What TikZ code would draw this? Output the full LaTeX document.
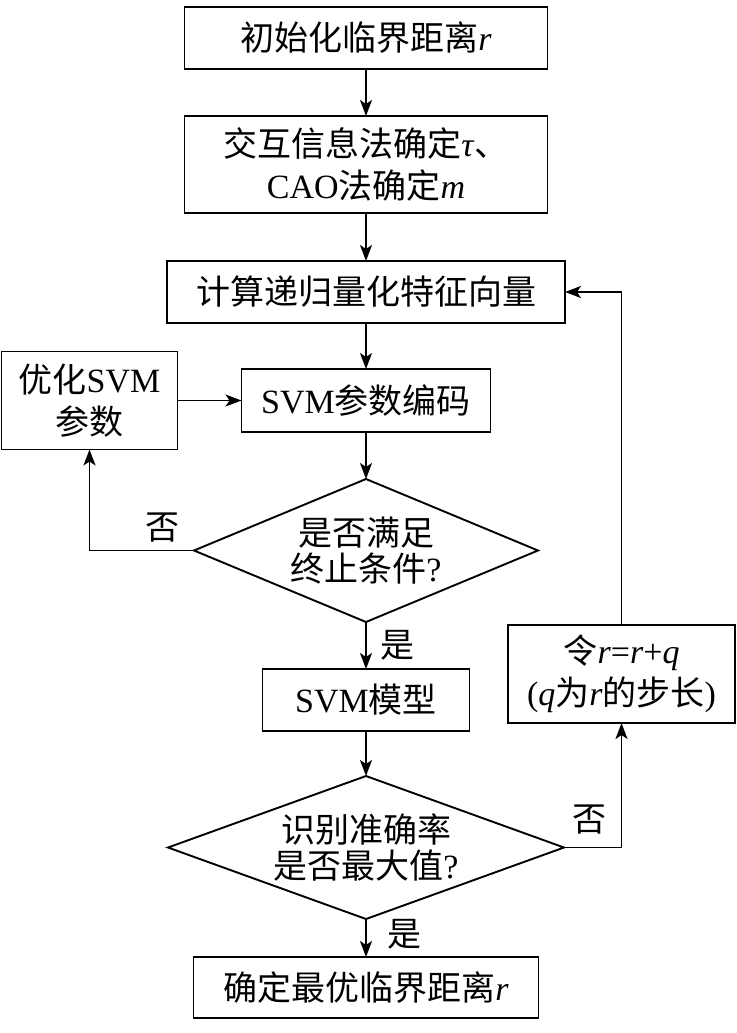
\documentclass[tikz,border=0pt]{standalone}
\usepackage{fontspec}
\setmainfont{Liberation Serif}
\newfontfamily\zh{Noto Sans CJK SC}
\usepackage{tikz}
\usetikzlibrary{arrows.meta, positioning, shapes.geometric}
\tikzset{%
	every path/.style={line width=1.9pt},
	edge/.style={%
		->,
		>={Stealth[length=16pt, width=12pt, inset=4pt]},
	},
	stepbox/.style={%
		rectangle,
		draw=black,
		minimum height=62pt,
		inner sep=0pt,
		outer sep=0pt,
		font=\fontsize{34}{42}\selectfont,
		align=center,
	},
	decision/.style={%
		diamond,
		draw=black,
		inner sep=-6pt,
		outer sep=0pt,
		font=\fontsize{34}{36}\selectfont,
		align=center,
	},
	lbl/.style={%
		inner sep=0pt,
		font=\fontsize{34}{42}\selectfont\zh,
	},
}

\begin{document}
\begin{tikzpicture}[x=1pt, y=1pt]
	\useasboundingbox (0,0) rectangle (736,-1033);
	\coordinate (col_top) at (366, -38);
	\coordinate (loop_right) at (621.5, -674);

	\node [stepbox, minimum width=363pt] at (col_top) (init) {{\zh 初始化临界距离}\textit{r}};
	\node [stepbox, minimum width=363pt, minimum height=97pt, below=47pt of init] (embed) {{\zh 交互信息法确定}\textit{τ}{\zh 、}\\CAO{\zh 法确定}\textit{m}};
	\node [stepbox, minimum width=398pt, below=48pt of embed] (rqa) {{\zh 计算递归量化特征向量}};
	\node [stepbox, minimum width=249pt, minimum height=63pt, below=46pt of rqa] (code) {SVM{\zh 参数编码}};
	\node [decision, minimum width=344pt, minimum height=143pt, aspect=2.4, below=47pt of code] (stop) {{\zh 是否满足}\\{\zh 终止条件}?};
	\node [stepbox, minimum width=207pt, minimum height=62pt, below=47pt of stop] (model) {SVM{\zh 模型}};
	\node [decision, minimum width=396pt, minimum height=143pt, aspect=2.8, below=45pt of model] (best) {{\zh 识别准确率}\\{\zh 是否最大值}?};
	\node [stepbox, minimum width=345pt, minimum height=61pt, below=38pt of best] (result) {{\zh 确定最优临界距离}\textit{r}};

	\node [stepbox, minimum width=176pt, minimum height=98pt, left=64pt of code] (opt) {{\zh 优化}SVM\\{\zh 参数}};
	\node [stepbox, minimum width=227pt, minimum height=98pt] at (loop_right) (step_r) {{\zh 令}\textit{r}=\textit{r}+\textit{q}\\(\textit{q}{\zh 为}\textit{r}{\zh 的步长})};

	\node [lbl] at (162, -528) (no_stop) {否};
	\node [lbl] at (397, -645) (yes_stop) {是};
	\node [lbl] at (589, -820) (no_best) {否};
	\node [lbl] at (404, -934) (yes_best) {是};

	\draw[edge] (init) -- (embed);
	\draw[edge] (embed) -- (rqa);
	\draw[edge] (rqa) -- (code);
	\draw[edge] (code) -- (stop);
	\draw[edge] (stop) -- (model);
	\draw[edge] (model) -- (best);
	\draw[edge] (best) -- (result);
	\draw[edge] (opt) -- (code);
	\draw[edge] (stop.west) -| (opt.south);
	\draw[edge] (best.east) -| (step_r.south);
	\draw[edge] (step_r.north) |- (rqa.east);
\end{tikzpicture}
\end{document}
